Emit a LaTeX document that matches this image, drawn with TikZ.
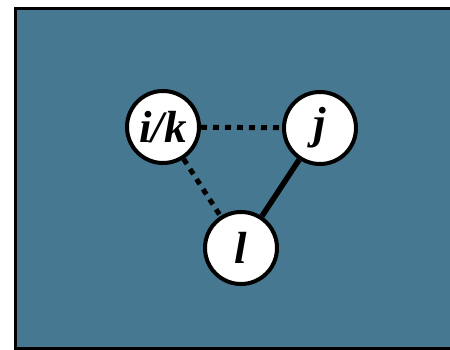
\documentclass[tikz,border=0pt]{standalone}
\usepackage{fontspec}
\setmainfont{Liberation Serif}

\definecolor{panelblue}{RGB}{71,120,145}

\tikzset{
  vertex/.style={circle, draw=black, fill=white, line width=4pt,
    minimum size=72pt, inner sep=0pt, font=\fontsize{45}{45}\selectfont\bfseries\itshape},
  weakedge/.style={black, line width=5pt, dash pattern=on 6pt off 6pt},
  strongedge/.style={black, line width=5.5pt}
}

\begin{document}
\begin{tikzpicture}[x=1pt, y=1pt]
            \useasboundingbox (0,0) rectangle (450,349);
            \filldraw[fill=panelblue, draw=black, line width=3pt] (15.5,0.5) rectangle (456,340.5);
            \node[vertex] (ik) at (163,222) {i/k};
            \node[vertex] (j) at (320,221) {j};
            \node[vertex] (l) at (241,101) {l};
            \draw[weakedge] (ik) -- (j);
            \draw[weakedge] (ik) -- (l);
            \draw[strongedge] (j) -- (l);
        \end{tikzpicture}
\end{document}
